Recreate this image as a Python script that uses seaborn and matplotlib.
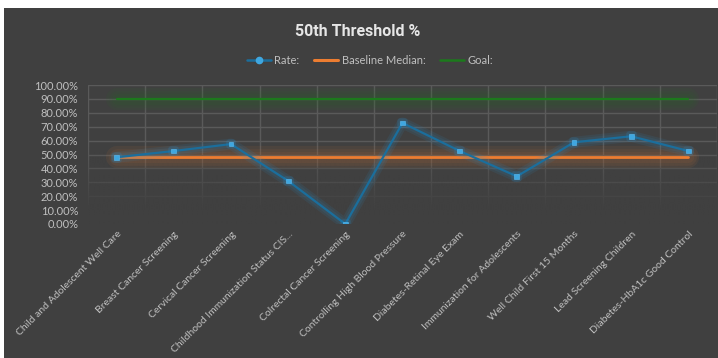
import matplotlib
matplotlib.use("Agg")
import matplotlib.pyplot as plt
import matplotlib.patheffects as pe
from matplotlib.ticker import FuncFormatter, FixedLocator
from matplotlib.lines import Line2D
import numpy as np
import pandas as pd
import seaborn as sns

categories = [
    "Child and Adolescent Well Care",
    "Breast Cancer Screening",
    "Cervical Cancer Screening",
    "Childhood Immunization Status CIS...",
    "Colrectal Cancer Screening",
    "Controlling High Blood Pressure",
    "Diabetes-Retinal Eye Exam",
    "Immunization for Adolescents",
    "Well Child First 15 Months",
    "Lead Screening Children",
    "Diabetes-HbA1c Good Control",
]
rate = [0.48, 0.525, 0.575, 0.31, 0.0, 0.727, 0.525, 0.343, 0.588, 0.631, 0.525]
baseline_median = [0.482] * 11
goal = [0.90] * 11
y_ticks = [0.0, 0.1, 0.2, 0.3, 0.4, 0.5, 0.6, 0.7, 0.8, 0.9, 1.0]

BG = "#404040"
RATE_LINE = "#1b6e9c"
RATE_MARK = "#3fa7e0"
ORANGE = "#ED7D31"
GREEN = "#1c7a1c"
TXT = "#bfbfbf"

sns.set_theme(style="dark")
plt.rcParams["font.family"] = ["Lato", "DejaVu Sans"]

W, H = 718, 358
fig = plt.figure(figsize=(W / 100, H / 100), dpi=100, facecolor="white")
fig.patches.append(plt.Rectangle((4 / W, 0), 1 - 4 / W, 1 - 8 / H, transform=fig.transFigure,
                                 facecolor=BG, edgecolor="none", zorder=-10))

ax_left, ax_right = 88 / W, 717 / W
ax_top, ax_bot = 1 - 85 / H, 1 - 224 / H
ax = fig.add_axes([ax_left, ax_bot, ax_right - ax_left, ax_top - ax_bot])
ax.set_zorder(1)
ax.set_facecolor(BG)
ax.patch.set_alpha(0)

x = np.arange(len(categories))
df = pd.DataFrame({"x": x, "Rate": rate, "Baseline": baseline_median, "Goal": goal})

def glow(color, widths=(9, 7, 5), alpha=0.12):
    effects = [pe.Stroke(linewidth=w, foreground=color, alpha=alpha) for w in widths]
    effects.append(pe.Normal())
    return effects

sns.lineplot(data=df, x="x", y="Goal", ax=ax, color=GREEN, linewidth=1.6, zorder=3,
             path_effects=glow(GREEN, widths=(16, 12, 8), alpha=0.07))
sns.lineplot(data=df, x="x", y="Baseline", ax=ax, color=ORANGE, linewidth=2.0, zorder=4,
             path_effects=glow(ORANGE, widths=(16, 12, 8), alpha=0.07))
sns.lineplot(data=df, x="x", y="Rate", ax=ax, color=RATE_LINE, linewidth=1.6, zorder=5,
             path_effects=glow("#2a8cc8", widths=(8, 5), alpha=0.11))
ax.scatter(x, rate, s=12, marker="s", color=RATE_MARK, edgecolor="#5cbaf0", linewidth=0.4, zorder=6,
           path_effects=[pe.Stroke(linewidth=4, foreground="#2a8cc8", alpha=0.2), pe.Normal()])
ax.set_xlabel("")
ax.set_ylabel("")

# gridlines
ax.yaxis.set_major_locator(FixedLocator(y_ticks))
ax.xaxis.set_major_locator(FixedLocator(x))
ax.xaxis.set_minor_locator(FixedLocator(np.arange(-0.5, len(categories), 1)))
ax.grid(True, which="major", axis="y", color="#5a5a5a", linewidth=1.0, zorder=1)
ax.grid(True, which="minor", axis="x", color="#5a5a5a", linewidth=1.0, zorder=1)
ax.grid(False, which="major", axis="x")
ax.set_axisbelow(True)
for spine in ax.spines.values():
    spine.set_visible(False)

# fade the lower part of the grid
grad = np.zeros((100, 2, 4))
rgb = matplotlib.colors.to_rgb(BG)
grad[..., 0], grad[..., 1], grad[..., 2] = rgb
alpha_col = np.clip((0.55 - np.linspace(1, 0, 100)) / 0.45, 0, 1)
grad[..., 3] = alpha_col[:, None]
ax.imshow(grad, extent=(-0.5, len(categories) - 0.5, 0, 1), aspect="auto", zorder=2,
          interpolation="bilinear", origin="upper")
ax.set_xlim(-0.5, len(categories) - 0.5)
ax.set_ylim(0, 1)

ax.yaxis.set_major_formatter(FuncFormatter(lambda v, p: f"{v*100:.2f}%"))
ax.tick_params(axis="y", length=0, pad=7, labelsize=8, labelcolor=TXT)
ax.tick_params(axis="x", which="both", length=0, pad=4, labelsize=7.5, labelcolor=TXT)
ax.set_xticklabels(categories, rotation=45, ha="right", rotation_mode="anchor")

fig.text(358 / W, 1 - 32 / H, "50th Threshold %", ha="center", va="center",
         fontsize=11.5, fontweight="bold", color="#e6e6e6", family=["Roboto", "DejaVu Sans"])

handles = [
    Line2D([0], [0], color=RATE_LINE, linewidth=1.8, marker="o", markersize=4.5,
           markerfacecolor=RATE_MARK, markeredgecolor=RATE_MARK),
    Line2D([0], [0], color=ORANGE, linewidth=2.2),
    Line2D([0], [0], color=GREEN, linewidth=1.8),
]
leg = fig.legend(handles, ["Rate:", "Baseline Median:", "Goal:"], loc="center",
                 bbox_to_anchor=(370 / W, 1 - 60 / H), ncol=3, frameon=False,
                 fontsize=8, labelcolor=TXT, handlelength=2.2, handletextpad=0.3,
                 columnspacing=1.3)

fig.savefig("out.png", dpi=100, facecolor=fig.get_facecolor())
